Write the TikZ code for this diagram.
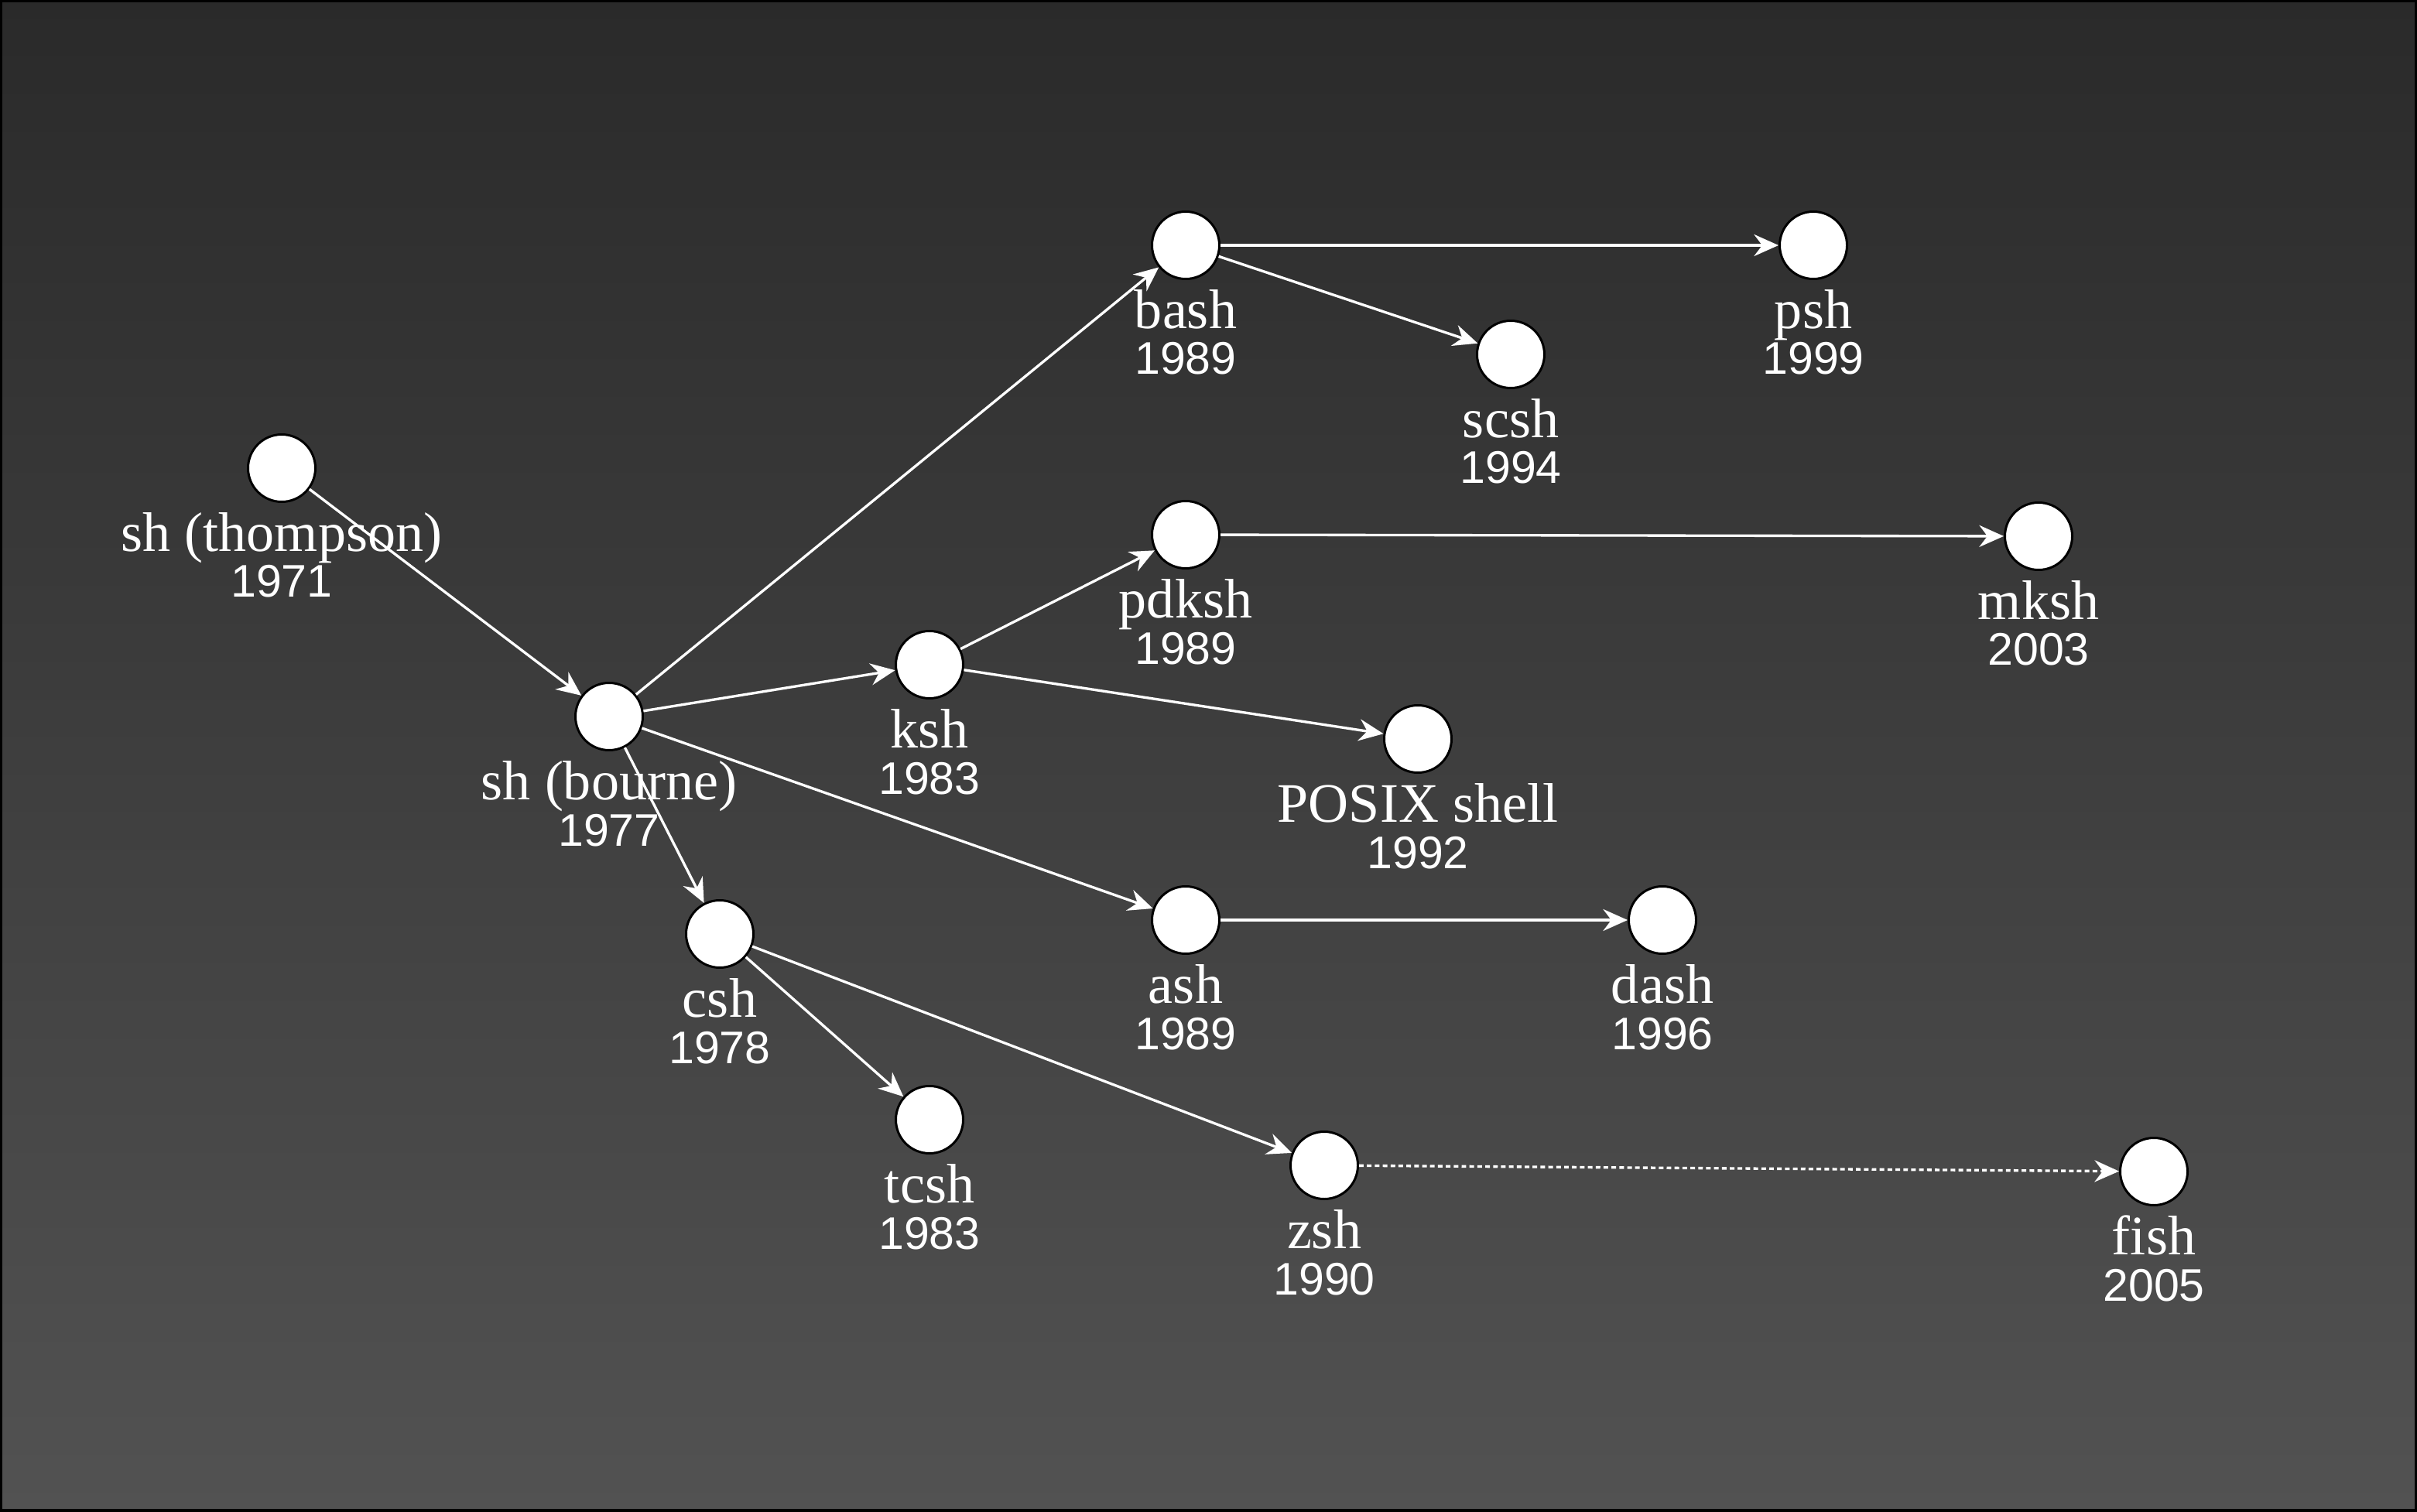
\documentclass[tikz,border=0pt]{standalone}
\usepackage{fontspec}
\setmainfont{Liberation Serif}
\newfontfamily\yearfam{Liberation Sans}
\newcommand{\yr}{\yearfam\fontsize{16.8pt}{16.8pt}\selectfont}
\usetikzlibrary{arrows.meta}
\definecolor{bgtop}{HTML}{2A2A2A}
\definecolor{bgbot}{HTML}{525252}
\tikzset{
  shell/.style={circle, draw=black, fill=white, line width=0.85pt, minimum size=0.87cm, inner sep=0pt},
  tag/.style={anchor=base, align=center, text=white, inner sep=0pt, font=\fontsize{20.5pt}{16.8pt}\selectfont},
  arr/.style={draw=white, line width=0.95pt, -{Stealth[length=9pt, width=8pt, inset=3pt]}},
}
\begin{document}
\begin{tikzpicture}
\useasboundingbox (0, 0) rectangle (31.23, 19.53);
\shade [top color=bgtop, bottom color=bgbot] (0, 0) rectangle (31.23, 19.53);
\draw [line width=0.06cm] (0, 0) rectangle (31.23, 19.53);
\node [shell] (thompson) at (3.64, 13.48) {};
\node [shell] (bourne) at (7.87, 10.27) {};
\node [shell] (csh) at (9.30, 7.46) {};
\node [shell] (ksh) at (12.01, 10.94) {};
\node [shell] (bash) at (15.32, 16.36) {};
\node [shell] (scsh) at (19.52, 14.95) {};
\node [shell] (psh) at (23.43, 16.36) {};
\node [shell] (pdksh) at (15.32, 12.62) {};
\node [shell] (mksh) at (26.34, 12.60) {};
\node [shell] (posix) at (18.32, 9.98) {};
\node [shell] (ash) at (15.32, 7.64) {};
\node [shell] (dash) at (21.48, 7.64) {};
\node [shell] (tcsh) at (12.01, 5.06) {};
\node [shell] (zsh) at (17.11, 4.47) {};
\node [shell] (fish) at (27.83, 4.39) {};
\node [tag] (thompson-l) at ([yshift=-1.67cm]thompson.center) {sh (thompson)\\\yr 1971};
\node [tag] (bourne-l) at ([yshift=-1.67cm]bourne.center) {sh (bourne)\\\yr 1977};
\node [tag] (csh-l) at ([yshift=-1.67cm]csh.center) {csh\\\yr 1978};
\node [tag] (ksh-l) at ([yshift=-1.67cm]ksh.center) {ksh\\\yr 1983};
\node [tag] (bash-l) at ([yshift=-1.67cm]bash.center) {bash\\\yr 1989};
\node [tag] (scsh-l) at ([yshift=-1.67cm]scsh.center) {scsh\\\yr 1994};
\node [tag] (psh-l) at ([yshift=-1.67cm]psh.center) {psh\\\yr 1999};
\node [tag] (pdksh-l) at ([yshift=-1.67cm]pdksh.center) {pdksh\\\yr 1989};
\node [tag] (mksh-l) at ([yshift=-1.67cm]mksh.center) {mksh\\\yr 2003};
\node [tag] (posix-l) at ([yshift=-1.67cm]posix.center) {POSIX shell\\\yr 1992};
\node [tag] (ash-l) at ([yshift=-1.67cm]ash.center) {ash\\\yr 1989};
\node [tag] (dash-l) at ([yshift=-1.67cm]dash.center) {dash\\\yr 1996};
\node [tag] (tcsh-l) at ([yshift=-1.67cm]tcsh.center) {tcsh\\\yr 1983};
\node [tag] (zsh-l) at ([yshift=-1.67cm]zsh.center) {zsh\\\yr 1990};
\node [tag] (fish-l) at ([yshift=-1.67cm]fish.center) {fish\\\yr 2005};
\draw [arr] (thompson) to (bourne);
\draw [arr] (bourne) to (bash);
\draw [arr] (bourne) to (ksh);
\draw [arr] (bourne) to (ash);
\draw [arr] (bourne) to (csh);
\draw [arr] (bash) to (psh);
\draw [arr] (bash) to (scsh);
\draw [arr] (ksh) to (pdksh);
\draw [arr] (ksh) to (posix);
\draw [arr] (pdksh) to (mksh);
\draw [arr] (ash) to (dash);
\draw [arr] (csh) to (tcsh);
\draw [arr] (csh) to (zsh);
\draw [arr, dash pattern=on 1.7pt off 1.2pt] (zsh) to (fish);
\end{tikzpicture}
\end{document}
